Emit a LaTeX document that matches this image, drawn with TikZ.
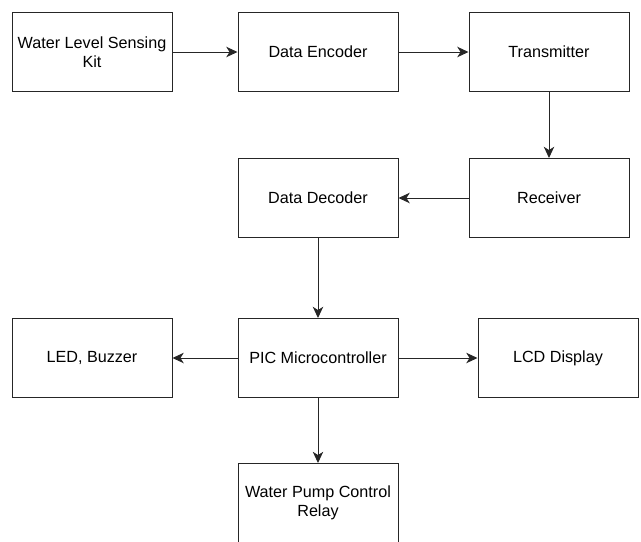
\documentclass[tikz,border=0pt]{standalone}
\usepackage{fontspec}
\setmainfont{Liberation Sans}
\usetikzlibrary{arrows.meta}
\tikzset{%
  >={Stealth[width=2.6mm,length=2.8mm,inset=0.8mm]},
  % Specifications for style of nodes:
            base/.style = {rectangle, draw=black!85, line width=0.7pt,
                           minimum width=4cm, minimum height=1.975cm,
                           text centered, align=center,
                           font=\fontsize{11.5}{13.5}\selectfont},
         block/.style = {base, fill=white},
          link/.style = {->, line width=0.7pt, draw=black!85},
}

\begin{document}
\begin{tikzpicture}[node distance=3.65cm]
  \useasboundingbox (-2.3,1.3) rectangle (13.725,-12.225);
  % Specification of nodes (position, etc.)
  \node (sensor)      [block]                                  {Water Level Sensing\\Kit};
  \node (encoder)     [block, right of=sensor, xshift=2cm]     {Data Encoder};
  \node (transmitter) [block, right of=encoder, xshift=2.125cm] {Transmitter};
  \node (receiver)    [block, below of=transmitter]            {Receiver};
  \node (decoder)     [block, left of=receiver, xshift=-2.125cm] {Data Decoder};
  \node (pic)         [block, below of=decoder, yshift=-0.35cm] {PIC Microcontroller};
  \node (led)         [block, left of=pic, xshift=-2cm]        {LED, Buzzer};
  \node (lcd)         [block, right of=pic, xshift=2.35cm]     {LCD Display};
  \node (relay)       [block, below of=pic, yshift=0.025cm]    {Water Pump Control\\Relay};
  % Specification of lines between nodes specified above
\draw[link]     (sensor) -- (encoder);
\draw[link]     (encoder) -- (transmitter);
\draw[link]     (transmitter) -- (receiver);
\draw[link]     (receiver) -- (decoder);
\draw[link]     (decoder) -- (pic);
\draw[link]     (pic) -- (led);
\draw[link]     (pic) -- (lcd);
\draw[link]     (pic) -- (relay);
\end{tikzpicture}
\end{document}
